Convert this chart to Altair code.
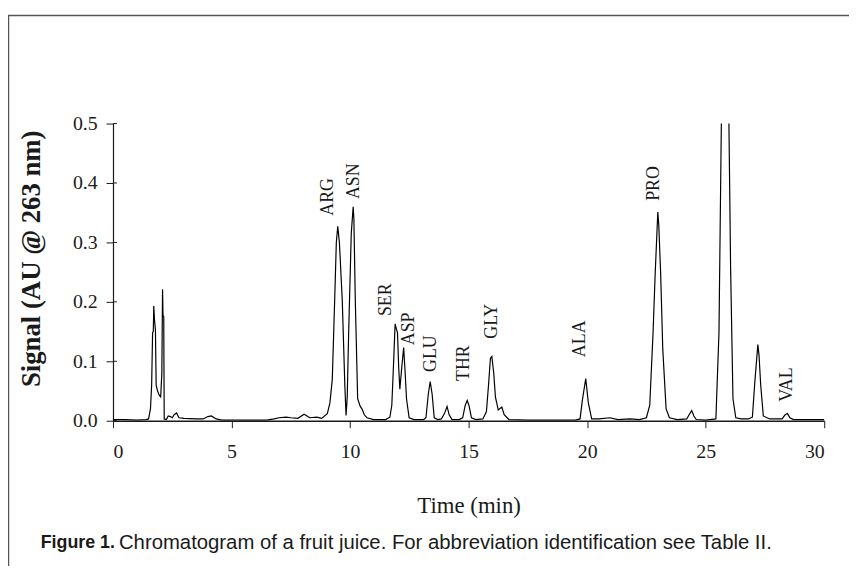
import altair as alt
import pandas as pd

# ---- trace (time in min, signal in AU) ----
time = [0.0, 0.5, 1.0, 1.4, 1.5, 1.58, 1.63, 1.67, 1.70, 1.72, 1.75, 1.79, 1.82, 1.88, 1.95,
        2.01, 2.06, 2.09, 2.11, 2.14, 2.16, 2.25, 2.33, 2.42, 2.5, 2.58, 2.68, 2.78, 3.0, 3.5,
        3.8, 4.0, 4.15, 4.35, 4.6, 5.5, 6.5, 6.8, 7.0, 7.3, 7.5, 7.8, 8.06, 8.3, 8.6,
        8.8, 9.04, 9.15, 9.25, 9.35, 9.42, 9.48, 9.55, 9.67, 9.78, 9.83, 9.88, 9.94, 10.05, 10.13,
        10.16, 10.22, 10.32, 10.42, 10.5, 10.6, 10.71, 11.0, 11.5, 11.68, 11.76, 11.83, 11.9, 11.95, 12.0,
        12.05, 12.1, 12.18, 12.26, 12.31, 12.38, 12.49, 12.7, 13.1, 13.2, 13.3, 13.38, 13.46, 13.55, 13.7,
        13.85, 13.98, 14.09, 14.18, 14.3, 14.6, 14.75, 14.85, 14.94, 15.02, 15.12, 15.3, 15.6, 15.75, 15.84,
        15.92, 15.98, 16.06, 16.13, 16.25, 16.4, 16.5, 16.7, 17.5, 18.5, 19.5, 19.7, 19.8, 19.94, 20.05,
        20.19, 20.5, 20.96, 21.3, 21.8, 22.2, 22.5, 22.64, 22.78, 22.87, 22.98, 23.02, 23.1, 23.19, 23.33,
        23.47, 23.8, 24.2, 24.3, 24.41, 24.5, 24.6, 25.0, 25.43, 25.56, 25.66, 25.82, 25.98, 26.05, 26.15,
        26.27, 26.5, 26.8, 26.97, 27.07, 27.2, 27.25, 27.32, 27.43, 27.7, 28.1, 28.22, 28.35, 28.45, 28.55,
        28.7, 29.5, 30.0]
signal = [0.002, 0.002, 0.001, 0.002, 0.003, 0.02, 0.06, 0.148, 0.15, 0.193, 0.17, 0.153, 0.06, 0.05, 0.043,
          0.04, 0.08, 0.221, 0.177, 0.175, 0.003, 0.002, 0.008, 0.007, 0.005, 0.01, 0.013, 0.005, 0.004, 0.003,
          0.003, 0.007, 0.008, 0.003, 0.001, 0.001, 0.001, 0.003, 0.005, 0.006, 0.005, 0.004, 0.011, 0.005, 0.006,
          0.004, 0.012, 0.03, 0.07, 0.203, 0.3, 0.327, 0.3, 0.203, 0.058, 0.009, 0.04, 0.148, 0.315, 0.36,
          0.34, 0.203, 0.037, 0.025, 0.02, 0.01, 0.005, 0.002, 0.002, 0.006, 0.026, 0.092, 0.163, 0.155, 0.148,
          0.09, 0.053, 0.09, 0.123, 0.09, 0.037, 0.005, 0.002, 0.002, 0.005, 0.045, 0.066, 0.045, 0.005, 0.002,
          0.003, 0.012, 0.024, 0.01, 0.002, 0.002, 0.005, 0.025, 0.034, 0.025, 0.005, 0.002, 0.003, 0.015, 0.06,
          0.105, 0.108, 0.08, 0.04, 0.018, 0.023, 0.01, 0.002, 0.001, 0.001, 0.001, 0.003, 0.035, 0.071, 0.03,
          0.003, 0.003, 0.005, 0.002, 0.003, 0.002, 0.005, 0.026, 0.148, 0.248, 0.351, 0.33, 0.248, 0.12, 0.02,
          0.005, 0.002, 0.003, 0.01, 0.017, 0.008, 0.002, 0.001, 0.003, 0.148, 0.5, 0.8, 0.5, 0.259, 0.037,
          0.005, 0.003, 0.003, 0.006, 0.064, 0.128, 0.11, 0.06, 0.008, 0.003, 0.003, 0.003, 0.01, 0.012, 0.005,
          0.002, 0.002, 0.002]

# ---- peak labels (text start anchor) ----
label_names = ["ARG", "ASN", "SER", "ASP", "GLU", "THR", "GLY", "ALA", "PRO", "VAL"]
label_time = [9.09, 10.16, 11.53, 12.48, 13.41, 14.80, 15.99, 19.68, 22.84, 28.42]
label_signal = [0.345, 0.373, 0.176, 0.127, 0.082, 0.067, 0.138, 0.107, 0.37, 0.032]

x_ticks = [0, 5, 10, 15, 20, 25, 30]
y_ticks = [0.0, 0.1, 0.2, 0.3, 0.4, 0.5]

caption_bold = "Figure 1."
caption_text = "Chromatogram of a fruit juice. For abbreviation identification see Table II."

SERIF = "Liberation Serif, Times New Roman, serif"
SANS_N = "Liberation Sans, Arial, sans-serif"
INK = "#1a1a1a"

trace = pd.DataFrame({"time": time, "signal": signal})
labels = pd.DataFrame({"name": label_names, "time": label_time, "signal": label_signal})
yt = pd.DataFrame({"signal": y_ticks})
one = alt.Data(values=[{"k": 1}])

x_scale = alt.Scale(domain=[0, 30], nice=False, zero=False)
y_scale = alt.Scale(domain=[0, 0.5], nice=False)

x_axis = alt.Axis(
    values=x_ticks, format="d", title="Time (min)", grid=False,
    tickSize=7, tickColor=INK, domainColor=INK, domainWidth=1.5,
    labelPadding=14, labelFont=SERIF, labelFontSize=20, labelColor=INK,
    titleFont=SERIF, titleFontSize=23, titleFontWeight="normal", titleColor=INK,
    titleY=86, titleBaseline="middle")
y_axis = alt.Axis(
    values=y_ticks, format=".1f", title="Signal (AU @ 263 nm)", grid=False,
    tickSize=7, tickColor=INK, domainColor=INK, domainWidth=1.2,
    labelPadding=9, labelFont=SERIF, labelFontSize=20, labelColor=INK,
    titleFont=SERIF, titleFontSize=27, titleFontWeight="bold", titleColor=INK,
    titleAngle=270, titleX=-82, titleY=136, titleAlign="center", titleBaseline="middle")

X = alt.X("time:Q", scale=x_scale, axis=x_axis)
Y = alt.Y("signal:Q", scale=y_scale, axis=y_axis)

line = alt.Chart(trace).mark_line(color="black", strokeWidth=1.2, clip=True).encode(x=X, y=Y)

inner_ticks = alt.Chart(yt).mark_rule(color=INK, strokeWidth=1).encode(
    y=Y, x=alt.value(0), x2=alt.value(4),
)

peak_text = alt.Chart(labels).mark_text(
    angle=270, align="left", baseline="middle", font=SERIF, fontSize=18, color=INK
).encode(x=X, y=Y, text="name:N")

border = alt.Chart(one).mark_rect(fillOpacity=0, stroke="#555555", strokeWidth=1.5).encode(
    x=alt.value(-105.5), x2=alt.value(760), y=alt.value(-109), y2=alt.value(470)
)

cap1 = alt.Chart(one).mark_text(
    text=caption_bold, font=SANS_N, fontSize=18, fontWeight="bold", color=INK,
    align="left", baseline="middle"
).encode(x=alt.value(-73), y=alt.value(423))

cap2 = alt.Chart(one).mark_text(
    text=caption_text, font=SANS_N, fontSize=20.5, color=INK,
    align="left", baseline="middle"
).encode(x=alt.value(6), y=alt.value(423))

chart = alt.layer(line, inner_ticks, peak_text, border, cap1, cap2).properties(
    width=718, height=300,
    autosize=alt.AutoSizeParams(type="none"),
    padding={"left": 106, "top": 114, "right": 25, "bottom": 144},
    background="white",
).configure_view(stroke=None)

chart.save("out.html", embed_options={"renderer": "svg", "actions": False})
